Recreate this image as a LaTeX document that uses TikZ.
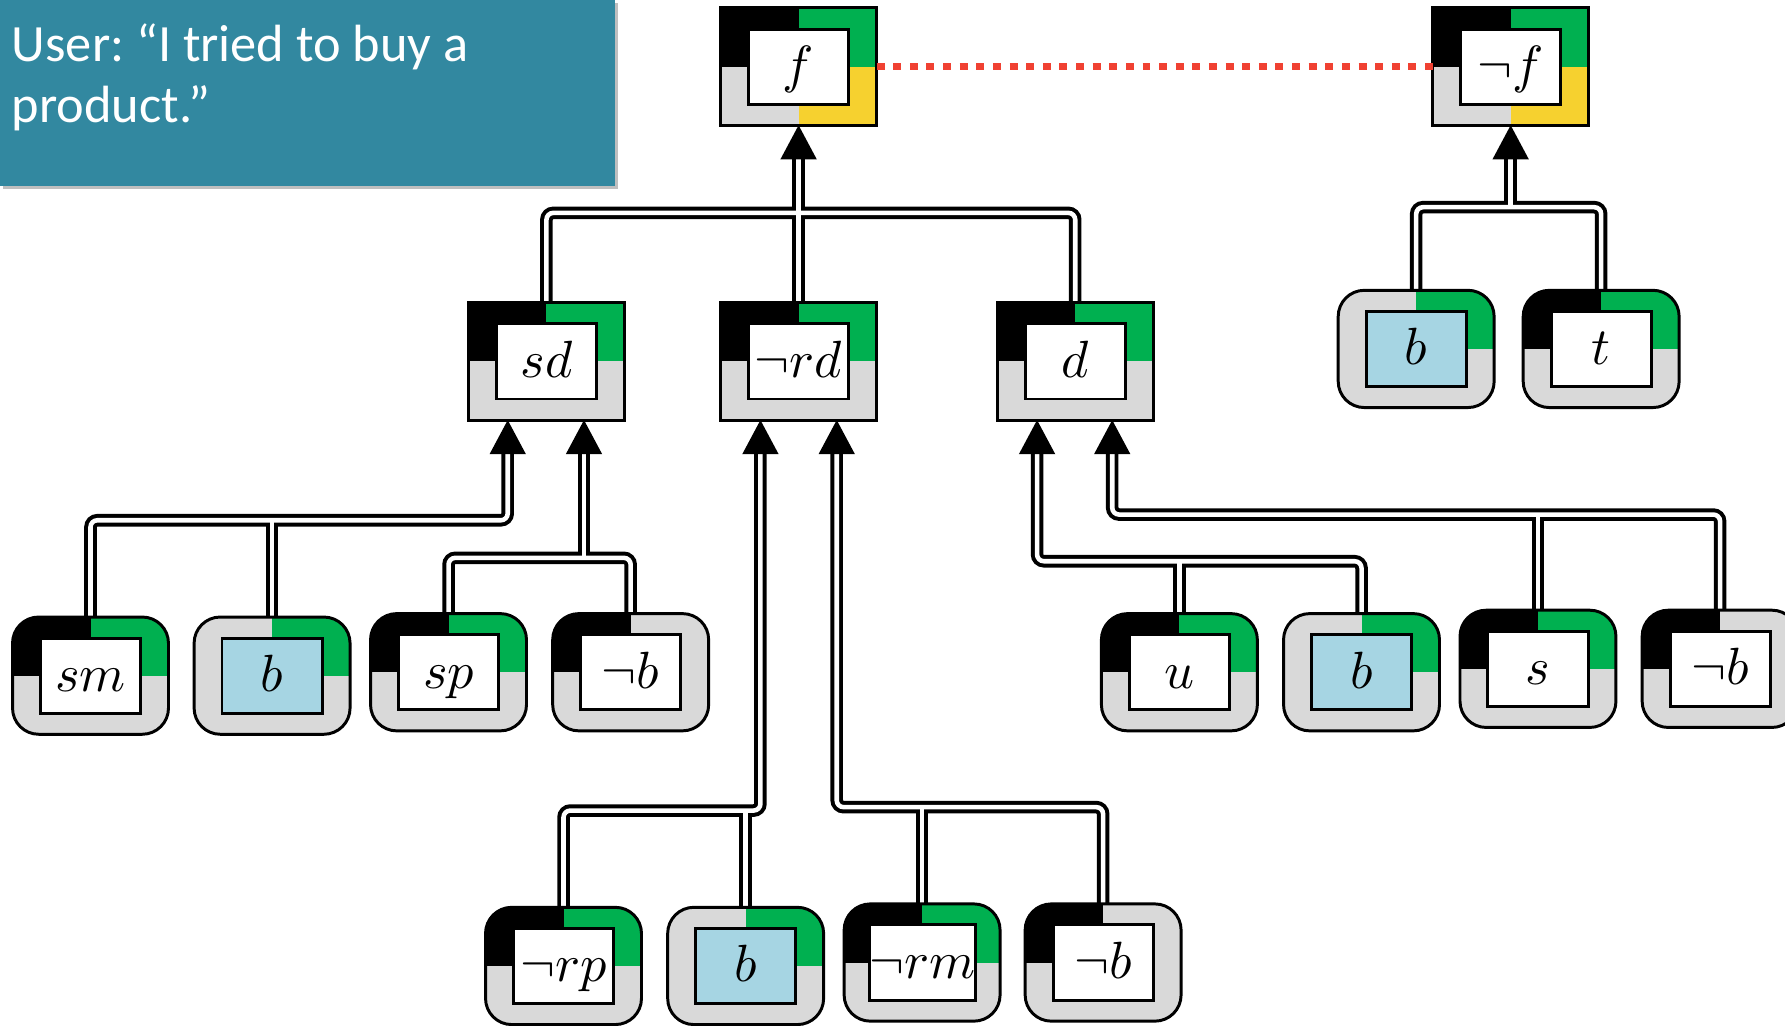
\documentclass[tikz,border=0pt]{standalone}
\usepackage{fontspec}
\newfontfamily\calib{Carlito}
\DeclareFontShape{OML}{cmm}{m}{it}{<->cmmi10}{}
\DeclareFontShape{OMS}{cmsy}{m}{n}{<->cmsy10}{}
\usetikzlibrary{calc,backgrounds}
\frenchspacing
\definecolor{qgreen}{RGB}{0,176,80}
\definecolor{qgray}{RGB}{217,217,217}
\definecolor{qyellow}{RGB}{246,209,47}
\definecolor{qblue}{RGB}{166,213,227}
\definecolor{qteal}{RGB}{50,136,160}
\definecolor{qred}{RGB}{240,65,50}
\tikzset{
  outerq/.style={shape=rectangle, minimum width=68.5pt, minimum height=51.5pt, inner sep=0pt, outer sep=0pt},
  boxline/.style={draw=black, line width=1.3pt},
  innerq/.style={draw=black, line width=1.3pt, minimum width=44pt, minimum height=33pt, inner sep=0pt,
    text height=14pt, text depth=0pt, font=\fontsize{23}{27}\selectfont},
  tipfill/.style={fill=black},
  reddot/.style={draw=qred, line width=3.2pt, dash pattern=on 3.5pt off 3.8pt},
  sq/.style={sharp corners},
  rd/.style={rounded corners=11.5pt}
}
% #1 name, #2 position, #3 TL, #4 TR, #5 BL, #6 BR, #7 inner fill, #8 label, #9 corner style
\newcommand\qnode[9]{%
  \node[outerq, #9, path picture={
      \coordinate (ppc) at (path picture bounding box.center);
      \fill[sharp corners, #3] (path picture bounding box.north west) rectangle (ppc);
      \fill[sharp corners, #4] (path picture bounding box.north east) rectangle (ppc);
      \fill[sharp corners, #5] (path picture bounding box.south west) rectangle (ppc);
      \fill[sharp corners, #6] (path picture bounding box.south east) rectangle (ppc);
    }] (#1) at #2 {};
  \draw[boxline, #9] (#1.north west) rectangle (#1.south east);
  \node[innerq, fill=#7] (#1-in) at (#1.center) {$#8$};
}
\newcommand\allbuses{%
  % f
  \draw[bus] (sd.north) |- ($(d.north)+(0,-79)$) -- (d.north);
  \draw[bus] (nrd.north) -- ($(f.south)+(0,30)$);
  % not f
  \draw[bus] (bR.north) |- ($(t.north)+(0,-73)$) -- (t.north);
  \draw[bus] ($(nf.south)+(0,30)$) -- ($(nf.south)+(0,72)$);
  % sd
  \draw[bus] ($(sd.south)+(-34,30)$) |- ($(sm.north)+(0,-85)$) -- (sm.north);
  \draw[bus] (b1.north) -- ++(0,-85);
  \draw[bus] (sp.north) |- ($(nb1.north)+(0,-49)$) -- (nb1.north);
  \draw[bus] ($(sd.south)+(33,30)$) -- ($(sd.south)+(33,121)$);
  % not rd
  \draw[bus] ($(nrd.south)+(-33.5,30)$) |- ($(nrp.north)+(0,-85)$) -- (nrp.north);
  \draw[bus] (b3.north) -- ++(0,-85);
  \draw[bus] ($(nrd.south)+(33.5,30)$) |- ($(nb3.north)+(0,-85)$) -- (nb3.north);
  \draw[bus] (nrm.north) -- ++(0,-85);
  % d
  \draw[bus] ($(d.south)+(-33.5,30)$) |- ($(b2.north)+(0,-46)$) -- (b2.north);
  \draw[bus] (u.north) -- ++(0,-46);
  \draw[bus] ($(d.south)+(32.5,30)$) |- ($(nb2.north)+(0,-84)$) -- (nb2.north);
  \draw[bus] (s.north) -- ++(0,-84);
}
\newcommand\uptip[1]{\fill[tipfill] #1 -- ++(-16,30) -- ++(32,0) -- cycle;}
\begin{document}
\begin{tikzpicture}[x=0.5pt,y=-0.5pt]
\useasboundingbox (0,0) rectangle (1568,901);
\begin{scope}
\clip (0,0) rectangle (1568,901);
% quote box
\fill[black, opacity=0.25] (3,3) rectangle (543,166);
\fill[qteal] (0,0) rectangle (540,163);
\node[anchor=base west, align=left, font=\calib\fontsize{23}{27}\selectfont, text=white, inner sep=0pt] (quote) at (10,108) {User: “I tried to buy a\\product.”};

% top nodes
\qnode{f}{(701.5,58.5)}{black}{qgreen}{qgray}{qyellow}{white}{f}{sq}
\qnode{nf}{(1327,58.5)}{black}{qgreen}{qgray}{qyellow}{white}{\neg f}{sq}
% middle nodes
\qnode{sd}{(480,317.5)}{black}{qgreen}{qgray}{qgray}{white}{sd}{sq}
\qnode{nrd}{(701.5,317.5)}{black}{qgreen}{qgray}{qgray}{white}{\neg rd}{sq}
\qnode{d}{(944.5,317.5)}{black}{qgreen}{qgray}{qgray}{white}{d}{sq}
% right leaves
\qnode{bR}{(1244,306.5)}{qgray}{qgreen}{qgray}{qgray}{qblue}{b}{rd}
\qnode{t}{(1406.5,306.5)}{black}{qgreen}{qgray}{qgray}{white}{t}{rd}
% row 1 leaves
\qnode{sm}{(79.5,593.5)}{black}{qgreen}{qgray}{qgray}{white}{sm}{rd}
\qnode{b1}{(239,593.5)}{qgray}{qgreen}{qgray}{qgray}{qblue}{b}{rd}
\qnode{sp}{(394,590.5)}{black}{qgreen}{qgray}{qgray}{white}{sp}{rd}
\qnode{nb1}{(554,590.5)}{black}{qgray}{qgray}{qgray}{white}{\neg b}{rd}
\qnode{u}{(1036,590.5)}{black}{qgreen}{qgray}{qgray}{white}{u}{rd}
\qnode{b2}{(1196,590.5)}{qgray}{qgreen}{qgray}{qgray}{qblue}{b}{rd}
\qnode{s}{(1351,587.5)}{black}{qgreen}{qgray}{qgray}{white}{s}{rd}
\qnode{nb2}{(1511,587.5)}{black}{qgray}{qgray}{qgray}{white}{\neg b}{rd}
% row 2 leaves
\qnode{nrp}{(495,848.5)}{black}{qgreen}{qgray}{qgray}{white}{\neg rp}{rd}
\qnode{b3}{(655,848.5)}{qgray}{qgreen}{qgray}{qgray}{qblue}{b}{rd}
\qnode{nrm}{(810,845.5)}{black}{qgreen}{qgray}{qgray}{white}{\neg rm}{rd}
\qnode{nb3}{(969,845.5)}{black}{qgray}{qgray}{qgray}{white}{\neg b}{rd}

% connectors (two passes: black then white core)
\begin{scope}[on background layer]
  \begin{scope}[bus/.style={draw=black, line width=5.5pt, rounded corners=3pt}]
    \allbuses
  \end{scope}
  \begin{scope}[bus/.style={draw=white, line width=2pt, rounded corners=3pt}]
    \allbuses
  \end{scope}
\end{scope}

% arrow heads
\uptip{(f.south)}
\uptip{(nf.south)}
\uptip{($(sd.south)+(-34,0)$)}
\uptip{($(sd.south)+(33,0)$)}
\uptip{($(nrd.south)+(-33.5,0)$)}
\uptip{($(nrd.south)+(33.5,0)$)}
\uptip{($(d.south)+(-33.5,0)$)}
\uptip{($(d.south)+(32.5,0)$)}

% conflict line
\draw[reddot] (f.east) -- (nf.west);
\end{scope}
\end{tikzpicture}
\end{document}
